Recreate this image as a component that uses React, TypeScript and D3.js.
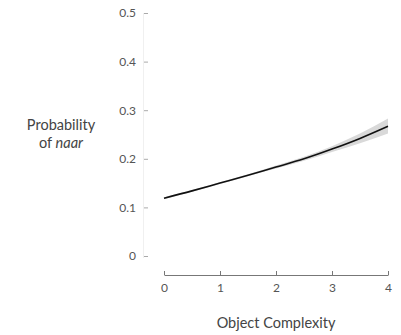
import { useEffect, useRef } from 'react';
import * as d3 from 'd3';

// values
const complexity = [0, 0.5, 1, 1.5, 2, 2.5, 3, 3.5, 4];
const probNaar = [0.119, 0.134, 0.15, 0.166, 0.183, 0.2, 0.22, 0.242, 0.267];
const ciLow = [0.117, 0.132, 0.148, 0.164, 0.18, 0.196, 0.214, 0.232, 0.252];
const ciHigh = [0.121, 0.136, 0.152, 0.168, 0.186, 0.204, 0.226, 0.252, 0.283];
const yTicks = [0, 0.1, 0.2, 0.3, 0.4, 0.5];
const xTicks = [0, 1, 2, 3, 4];

const FONT = 'Lato, "Open Sans", sans-serif';

const App = () => {
  const ref = useRef<SVGSVGElement>(null);

  useEffect(() => {
    const svg = d3.select(ref.current);
    svg.selectAll('*').remove();

    const x = d3.scaleLinear().domain([0, 4]).range([164, 388]);
    const y = d3.scaleLinear().domain([0, 0.5]).range([256, 13]);

    const rows = complexity.map((c, i) => ({ c, p: probNaar[i], lo: ciLow[i], hi: ciHigh[i] }));

    // faint y axis line
    svg
      .append('line')
      .attr('x1', 143.5)
      .attr('x2', 143.5)
      .attr('y1', y(0.5))
      .attr('y2', y(0) + 2)
      .attr('stroke', '#f0f0f0');

    const yAxis = svg
      .append('g')
      .attr('transform', 'translate(148,0)')
      .call(d3.axisLeft(y).tickValues(yTicks).tickSize(4).tickPadding(8).tickFormat((d) => (d === 0 ? '0' : d3.format('.1f')(d as number))));
    yAxis.select('.domain').remove();
    yAxis.selectAll('line').attr('stroke', '#aaa');
    yAxis.selectAll('text').attr('fill', '#555').attr('font-family', FONT).attr('font-size', 12);

    const xAxis = svg
      .append('g')
      .attr('transform', 'translate(0,275)')
      .call(d3.axisTop(x).tickValues(xTicks).tickSize(4).tickSizeOuter(0).tickFormat(d3.format('d')));
    xAxis.select('.domain').attr('stroke', '#777');
    xAxis.selectAll('line').attr('stroke', '#777');
    xAxis
      .selectAll('text')
      .attr('y', 17)
      .attr('dy', 0)
      .attr('fill', '#555')
      .attr('font-family', FONT)
      .attr('font-size', 12);

    const band = d3
      .area<any>()
      .x((d) => x(d.c))
      .y0((d) => y(d.lo))
      .y1((d) => y(d.hi))
      .curve(d3.curveNatural);
    svg.append('path').datum(rows).attr('d', band).attr('fill', '#d9d9d9');

    const line = d3
      .line<any>()
      .x((d) => x(d.c))
      .y((d) => y(d.p))
      .curve(d3.curveNatural);
    svg
      .append('path')
      .datum(rows)
      .attr('d', line)
      .attr('fill', 'none')
      .attr('stroke', '#111')
      .attr('stroke-width', 1.6);

    svg
      .append('text')
      .attr('x', 276)
      .attr('y', 328)
      .attr('text-anchor', 'middle')
      .attr('font-family', FONT)
      .attr('font-size', 14.5)
      .attr('fill', '#444')
      .text('Object Complexity');

    const yl = svg
      .append('text')
      .attr('text-anchor', 'middle')
      .attr('font-family', FONT)
      .attr('font-size', 14.5)
      .attr('fill', '#444');
    yl.append('tspan').attr('x', 61).attr('y', 130).text('Probability');
    const l2 = yl.append('tspan').attr('x', 61).attr('y', 148);
    l2.append('tspan').text('of ');
    l2.append('tspan').attr('font-style', 'italic').text('naar');
  }, []);

  return (
    <svg
      ref={ref}
      width={401}
      height={335}
      style={{ position: 'absolute', left: 0, top: 0, background: '#fff' }}
    ></svg>
  );
};

export default App;
